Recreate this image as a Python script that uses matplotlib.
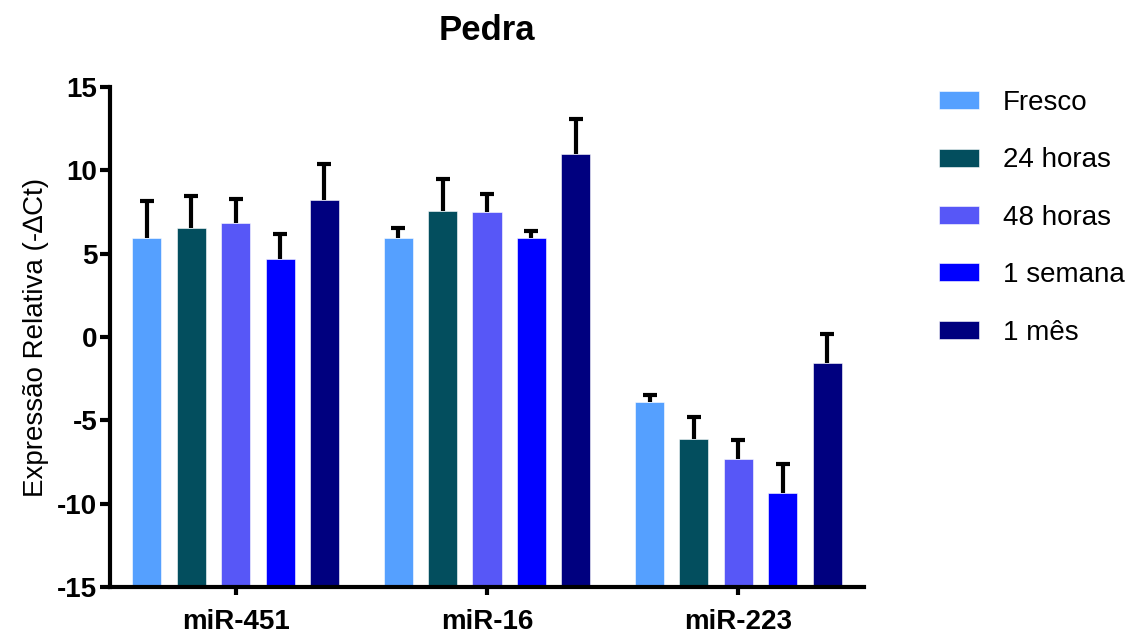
import numpy as np
import matplotlib
matplotlib.use("Agg")
import matplotlib.pyplot as plt

# ==============================================================================
# Data
# ==============================================================================
groups = ['miR-451', 'miR-16', 'miR-223']
series = ['Fresco', '24 horas', '48 horas', '1 semana', '1 mês']
colors = ['#55A0FF', '#034E5E', '#5757F7', '#0000FF', '#00007F']

# mean -dCt per series, one value per group
means = [
    [5.95, 5.95, -3.88],    # Fresco
    [6.55, 7.55, -6.14],    # 24 horas
    [6.85, 7.50, -7.34],    # 48 horas
    [4.70, 5.95, -9.38],    # 1 semana
    [8.22, 10.98, -1.58],   # 1 mes
]
# upper error (SD), drawn upward only
errors = [
    [2.20, 0.60, 0.40],
    [1.92, 1.95, 1.36],
    [1.45, 1.08, 1.16],
    [1.50, 0.40, 1.74],
    [2.15, 2.10, 1.74],
]

BASELINE = -15
plt.rcParams['font.family'] = ['Liberation Sans', 'DejaVu Sans']
plt.rcParams['axes.unicode_minus'] = False

fig = plt.figure(figsize=(11.32, 6.34), dpi=100)
ax = fig.add_axes([110 / 1132, 47 / 634, 754 / 1132, 500 / 634])

x = np.arange(len(groups))
step = 0.1765
width = 0.1155
cap = 0.028
for i, name in enumerate(series):
    vals = np.array(means[i])
    err = np.array(errors[i])
    pos = x + (i - 2) * step
    ax.bar(pos, vals - BASELINE, bottom=BASELINE, width=width, color=colors[i],
           edgecolor='white', linewidth=0.4, label=name, zorder=2)
    # one-sided error bars (upper only), like the Prism export
    ax.vlines(pos, vals, vals + err, color='black', linewidth=3, zorder=3)
    ax.hlines(vals + err, pos - cap, pos + cap, color='black', linewidth=3, zorder=3)

ax.set_xlim(-0.5, 2.5)
ax.set_ylim(-15, 15)
ax.set_yticks(np.arange(-15, 16, 5))
ax.set_xticks(x)
ax.set_xticklabels(groups, fontsize=20, fontweight='bold')
for lbl in ax.get_yticklabels():
    lbl.set_fontsize(20)
    lbl.set_fontweight('bold')

for side in ['top', 'right']:
    ax.spines[side].set_visible(False)
for side in ['left', 'bottom']:
    ax.spines[side].set_linewidth(3)
ax.tick_params(axis='y', length=7, width=3, pad=2)
ax.tick_params(axis='x', length=6, width=3, pad=10)

ax.set_ylabel('Expressão Relativa (-∆Ct)', fontsize=20, labelpad=6)
ax.set_title('Pedra', fontsize=25, fontweight='bold', pad=34)

fig.legend(loc='upper left', bbox_to_anchor=(939 / 1132, 1 - 90 / 634),
           frameon=False, fontsize=20, handlelength=1.44, handleheight=0.61,
           labelspacing=1.13, handletextpad=0.86, borderpad=0, borderaxespad=0)

fig.savefig('out.png', dpi=100)
